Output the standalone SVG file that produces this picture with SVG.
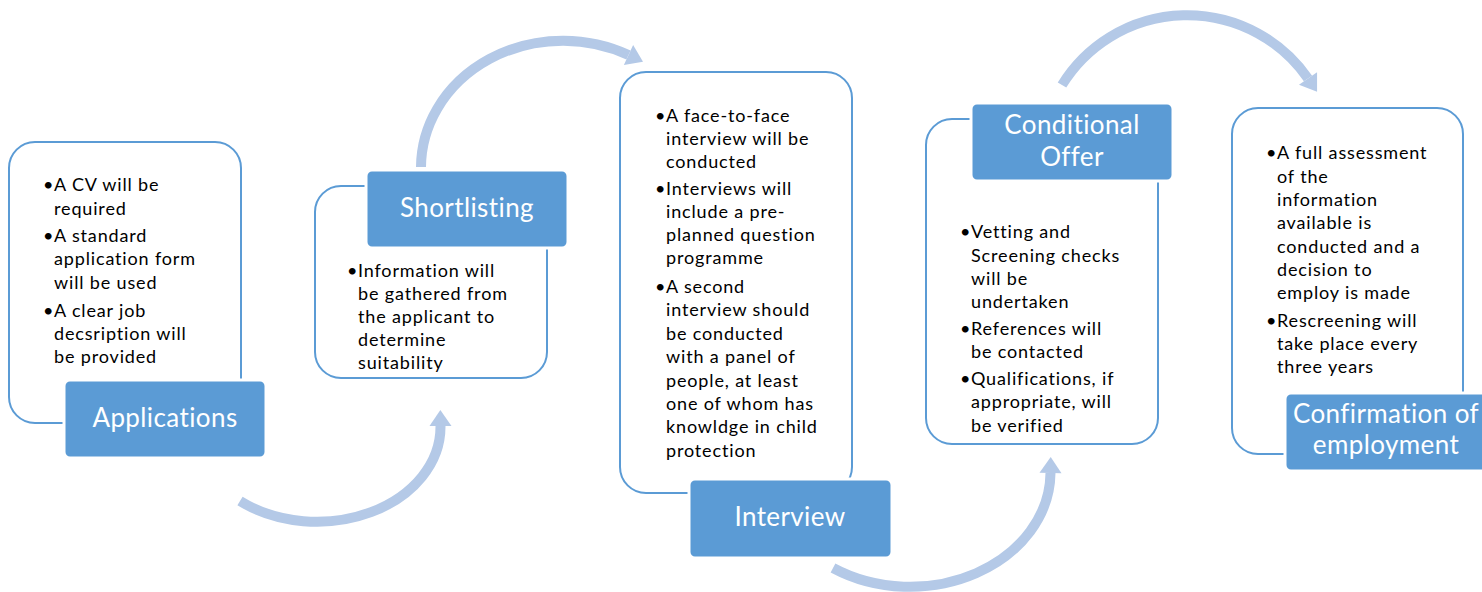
<svg xmlns="http://www.w3.org/2000/svg" width="1482" height="592" viewBox="0 0 1482 592">
<style>
.frame{fill:#fff;stroke:#5B9BD5;stroke-width:2}
.label{fill:#5B9BD5;stroke:#fff;stroke-width:3}
.lt{font-family:Lato,"Open Sans","Liberation Sans",sans-serif;font-size:26px;fill:#fff;text-anchor:middle;letter-spacing:0.4px}
.bt{font-family:Lato,"Open Sans","Liberation Sans",sans-serif;font-size:18px;fill:#000;letter-spacing:0.85px}
.arc{fill:none;stroke:#B4C9E7;stroke-width:10}
</style>
<defs>
<marker id="ah" markerUnits="userSpaceOnUse" markerWidth="20" markerHeight="26" refX="0" refY="11" orient="auto" overflow="visible">
<path d="M0,0 L16,11 L0,22 Z" fill="#B4C9E7"/>
</marker>
</defs>
<g id="connectors">
<path class="arc" marker-end="url(#ah)" d="M240,501 A123.5,95 0 0 0 440.5,426"/>
<path class="arc" marker-end="url(#ah)" d="M421,167 A142,127 0 0 1 628.5,55"/>
<path class="arc" marker-end="url(#ah)" d="M833,568 A140.5,115 0 0 0 1050.5,473"/>
<path class="arc" marker-end="url(#ah)" d="M1062,85 A147,147 0 0 1 1308,78.5"/>
</g>
<g id="node-applications">
<rect class="frame" x="9" y="142" width="232" height="281" rx="26"/>
<text class="bt"><tspan x="43" y="191">•</tspan><tspan x="54" y="191">A CV will be</tspan><tspan x="54" y="215">required</tspan><tspan x="43" y="242">•</tspan><tspan x="54" y="242">A standard</tspan><tspan x="54" y="265">application form</tspan><tspan x="54" y="289">will be used</tspan><tspan x="43" y="317">•</tspan><tspan x="54" y="317">A clear job</tspan><tspan x="54" y="340">decsription will</tspan><tspan x="54" y="363">be provided</tspan></text>
<rect class="label" x="64" y="380" width="202" height="78" rx="6"/>
<text class="lt" x="165" y="427">Applications</text>
</g>
<g id="node-shortlisting">
<rect class="frame" x="315" y="186" width="232" height="192" rx="26"/>
<text class="bt"><tspan x="347" y="277">•</tspan><tspan x="358" y="277">Information will</tspan><tspan x="358" y="300">be gathered from</tspan><tspan x="358" y="323">the applicant to</tspan><tspan x="358" y="346">determine</tspan><tspan x="358" y="369">suitability</tspan></text>
<rect class="label" x="366" y="170" width="202" height="78" rx="6"/>
<text class="lt" x="467" y="217">Shortlisting</text>
</g>
<g id="node-interview">
<rect class="frame" x="620" y="72" width="232" height="421" rx="26"/>
<text class="bt"><tspan x="655" y="122">•</tspan><tspan x="666" y="122">A face-to-face</tspan><tspan x="666" y="145">interview will be</tspan><tspan x="666" y="168">conducted</tspan><tspan x="655" y="195">•</tspan><tspan x="666" y="195">Interviews will</tspan><tspan x="666" y="218">include a pre-</tspan><tspan x="666" y="241">planned question</tspan><tspan x="666" y="264">programme</tspan><tspan x="655" y="293">•</tspan><tspan x="666" y="293">A second</tspan><tspan x="666" y="316">interview should</tspan><tspan x="666" y="340">be conducted</tspan><tspan x="666" y="363">with a panel of</tspan><tspan x="666" y="387">people, at least</tspan><tspan x="666" y="410">one of whom has</tspan><tspan x="666" y="433">knowldge in child</tspan><tspan x="666" y="457">protection</tspan></text>
<rect class="label" x="689" y="479" width="203" height="79" rx="6"/>
<text class="lt" x="790" y="526">Interview</text>
</g>
<g id="node-conditional-offer">
<rect class="frame" x="926" y="119" width="232" height="325" rx="26"/>
<text class="bt"><tspan x="960" y="238">•</tspan><tspan x="971" y="238">Vetting and</tspan><tspan x="971" y="262">Screening checks</tspan><tspan x="971" y="285">will be</tspan><tspan x="971" y="308">undertaken</tspan><tspan x="960" y="335">•</tspan><tspan x="971" y="335">References will</tspan><tspan x="971" y="358">be contacted</tspan><tspan x="960" y="385">•</tspan><tspan x="971" y="385">Qualifications, if</tspan><tspan x="971" y="408">appropriate, will</tspan><tspan x="971" y="432">be verified</tspan></text>
<rect class="label" x="971" y="103" width="202" height="78" rx="6"/>
<text class="lt" x="1072" y="134">Conditional</text>
<text class="lt" x="1072" y="166">Offer</text>
</g>
<g id="node-confirmation">
<rect class="frame" x="1232" y="108" width="231" height="346" rx="26"/>
<text class="bt"><tspan x="1266" y="159">•</tspan><tspan x="1277" y="159">A full assessment</tspan><tspan x="1277" y="183">of the</tspan><tspan x="1277" y="206">information</tspan><tspan x="1277" y="229">available is</tspan><tspan x="1277" y="253">conducted and a</tspan><tspan x="1277" y="276">decision to</tspan><tspan x="1277" y="299">employ is made</tspan><tspan x="1266" y="327">•</tspan><tspan x="1277" y="327">Rescreening will</tspan><tspan x="1277" y="350">take place every</tspan><tspan x="1277" y="373">three years</tspan></text>
<rect class="label" x="1285" y="393" width="202" height="78" rx="6"/>
<text class="lt" x="1386" y="423">Confirmation of</text>
<text class="lt" x="1386" y="454">employment</text>
</g>
</svg>
